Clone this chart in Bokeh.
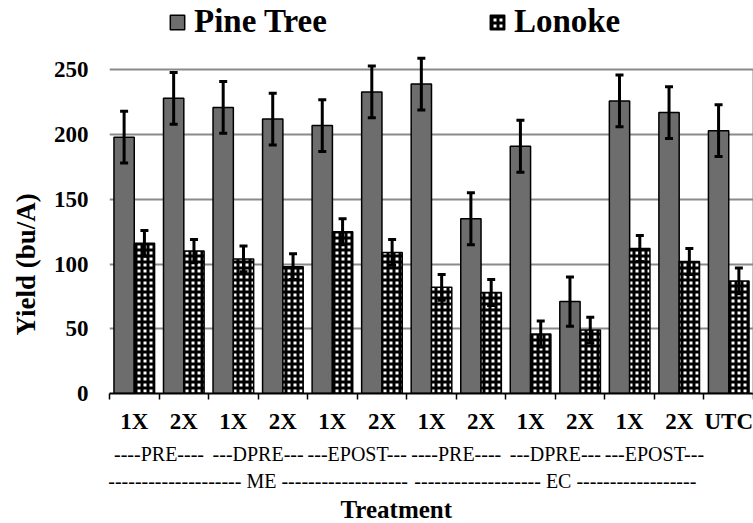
import numpy as np
import pandas as pd
from bokeh.plotting import figure
from bokeh.models import (ColumnDataSource, Range1d, FixedTicker, LinearAxis, Whisker,
                          TeeHead, Legend, LegendItem, Title)
from bokeh.embed import file_html
from bokeh.resources import INLINE

# ---------------- data ----------------
rates = ["1X", "2X", "1X", "2X", "1X", "2X", "1X", "2X", "1X", "2X", "1X", "2X", "UTC"]
timings = ["PRE", "PRE", "DPRE", "DPRE", "EPOST", "EPOST",
           "PRE", "PRE", "DPRE", "DPRE", "EPOST", "EPOST", "UTC"]
formulations = ["ME"] * 6 + ["EC"] * 6 + ["UTC"]

pine_tree = [198, 228, 221, 212, 207, 233, 239, 135, 191, 71, 226, 217, 203]
pine_tree_err = [20, 20, 20, 20, 20, 20, 20, 20, 20, 19, 20, 20, 20]
lonoke = [116, 110, 104, 98, 125, 109, 82, 78, 46, 49, 112, 102, 87]
lonoke_err = [10, 9, 10, 10, 10, 10, 10, 10, 10, 10, 10, 10, 10]

timing_labels = ["----PRE----", "---DPRE---", "---EPOST---",
                 "----PRE----", "---DPRE---", "---EPOST---"]
formulation_labels = ["-------------------- ME -------------------",
                      "------------------- EC ------------------"]
y_ticks = [0, 50, 100, 150, 200, 250]

# ---------------- derived table ----------------
idx = np.arange(1, len(rates) + 1)
df = pd.DataFrame({
    "pos": idx,
    "rate": rates,
    "pine": pine_tree,
    "lonoke": lonoke,
})
df["x_pine"] = df["pos"] - 0.205
df["x_lon"] = df["pos"] + 0.205
df["pine_hi"] = df["pine"] + np.array(pine_tree_err)
df["pine_lo"] = df["pine"] - np.array(pine_tree_err)
df["lon_hi"] = df["lonoke"] + np.array(lonoke_err)
df["lon_lo"] = df["lonoke"] - np.array(lonoke_err)
src = ColumnDataSource(df)

# group centres (pairs of treatments)
timing_pos = [float(i) * 2 + 1.5 for i in range(len(timing_labels))]
form_pos = [3.5, 9.5]

SERIF = "Liberation Serif"

p = figure(width=753, height=523, output_backend="svg", toolbar_location=None,
           x_range=Range1d(0.5, len(rates) + 0.5), y_range=Range1d(0, 303.6),
           min_border_left=108, min_border_right=0, min_border_top=0, min_border_bottom=0)
p.outline_line_color = None
p.xgrid.visible = False
p.ygrid.ticker = FixedTicker(ticks=y_ticks)
p.ygrid.grid_line_color = "#8a8a8a"
p.ygrid.grid_line_width = 2

r_pine = p.vbar(x="x_pine", top="pine", bottom=0, width=0.41, source=src,
                fill_color="#6d6d6d", line_color="black", line_width=1.5)
r_lon = p.vbar(x="x_lon", top="lonoke", bottom=0, width=0.41, source=src,
               fill_color="white", line_color="black", line_width=1.5,
               hatch_pattern="cross", hatch_color="black", hatch_weight=3, hatch_scale=6)

for base, lo, hi in (("x_pine", "pine_lo", "pine_hi"), ("x_lon", "lon_lo", "lon_hi")):
    w = Whisker(source=src, base=base, lower=lo, upper=hi, dimension="height",
                line_color="black", line_width=3, level="annotation",
                upper_head=TeeHead(size=8, line_width=3, line_color="black"),
                lower_head=TeeHead(size=8, line_width=3, line_color="black"))
    p.add_layout(w)

# y axis
yax = p.yaxis[0]
yax.ticker = FixedTicker(ticks=y_ticks)
yax.axis_line_color = None
yax.major_tick_line_color = None
yax.minor_tick_line_color = None
yax.major_tick_out = 0
yax.major_label_standoff = 21
yax.major_label_text_font = SERIF
yax.major_label_text_font_style = "bold"
yax.major_label_text_font_size = "23px"
yax.major_label_text_color = "black"

# y axis title
p.add_layout(Title(text="Yield (bu/A)", align="left", offset=58, standoff=18,
                   vertical_align="middle", text_font=SERIF, text_font_style="bold",
                   text_font_size="27px", text_color="black"), "left")

# right border
rax = LinearAxis(ticker=FixedTicker(ticks=[]), bounds=(0, 250),
                 axis_line_color="#8a8a8a", axis_line_width=2,
                 major_tick_line_color=None, minor_tick_line_color=None,
                 major_tick_out=0, major_label_text_font_size="0px", major_label_standoff=0)
p.add_layout(rax, "right")

# x axis (treatment rate)
xax = p.xaxis[0]
xax.ticker = FixedTicker(ticks=list(df["pos"]),
                         minor_ticks=[float(v) - 0.5 for v in df["pos"]] + [len(rates) + 0.5])
xax.major_label_overrides = {int(k): v for k, v in zip(df["pos"], rates)}
xax.axis_line_color = "black"
xax.axis_line_width = 2
xax.major_tick_line_color = None
xax.major_tick_out = 0
xax.major_tick_in = 0
xax.minor_tick_line_color = "black"
xax.minor_tick_line_width = 1.5
xax.minor_tick_out = 6
xax.minor_tick_in = 0
xax.major_label_standoff = 9
xax.major_label_text_font = SERIF
xax.major_label_text_font_style = "bold"
xax.major_label_text_font_size = "23px"
xax.major_label_text_color = "black"

# timing row
tax = LinearAxis(ticker=FixedTicker(ticks=timing_pos),
                 major_label_overrides={k: v for k, v in zip(timing_pos, timing_labels)},
                 axis_line_color=None, major_tick_line_color=None, minor_tick_line_color=None,
                 major_tick_out=0, minor_tick_out=0,
                 major_label_standoff=6, major_label_text_font=SERIF,
                 major_label_text_font_size="20px", major_label_text_color="black")
p.add_layout(tax, "below")

# formulation row
fax = LinearAxis(ticker=FixedTicker(ticks=form_pos),
                 major_label_overrides={k: v for k, v in zip(form_pos, formulation_labels)},
                 axis_line_color=None, major_tick_line_color=None, minor_tick_line_color=None,
                 major_tick_out=0, minor_tick_out=0,
                 major_label_standoff=2, major_label_text_font=SERIF,
                 major_label_text_font_size="20px", major_label_text_color="black")
p.add_layout(fax, "below")

# x axis title
p.add_layout(Title(text="Treatment", align="left", offset=231, standoff=0,
                   vertical_align="middle", text_font=SERIF, text_font_style="bold",
                   text_font_size="25px", text_color="black"), "below")

legend = Legend(items=[LegendItem(label="Pine Tree", renderers=[r_pine]),
                       LegendItem(label="Lonoke", renderers=[r_lon])],
                orientation="horizontal", location=(59, 353),
                padding=0, margin=0, spacing=161, label_standoff=8,
                glyph_width=18, glyph_height=18,
                label_text_font="'Liberation Serif', serif", label_text_font_style="bold",
                label_text_font_size="33px", label_text_color="black",
                background_fill_alpha=0, border_line_color=None)
p.add_layout(legend)

open("out.html", "w").write(file_html(p, INLINE))
